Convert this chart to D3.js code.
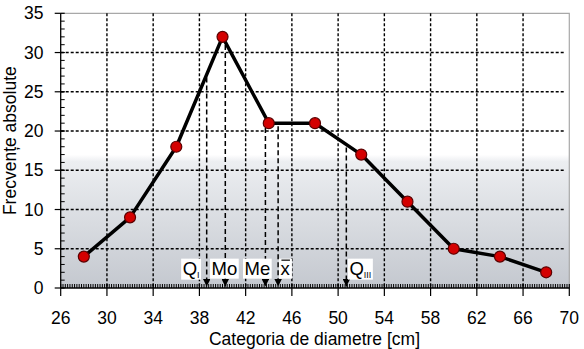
<!DOCTYPE html>
<html>
<head>
<meta charset="utf-8">
<script src="https://cdn.jsdelivr.net/npm/d3@7"></script>
<style>
  html, body { margin: 0; padding: 0; background: #fff; }
  svg { display: block; font-family: "Liberation Sans", Arial, sans-serif; }
</style>
</head>
<body>
<svg id="chart" width="584" height="349"></svg>
<script>
// Class midpoints (cm) and absolute frequencies
const diameters = [28, 32, 36, 40, 44, 48, 52, 56, 60, 64, 68];
const frequencies = [4, 9, 18, 32, 21, 21, 17, 11, 5, 4, 2];

// Position statistics drawn as arrows down to the axis
const statNames = ["QI", "Mo", "Me", "mean", "QIII"];
const statValues = [38.63, 40.24, 43.71, 44.81, 50.71];

// Label text, subscript and left edge (in cm) for each statistic
const statLabels = ["Q", "Mo", "Me", "x", "Q"];
const statSubs = ["I", "", "", "", "III"];
const statLabelX = [36.42, 38.92, 41.77, 44.88, 50.85];
const statLabelY = 1.7;

const xTicks = [26, 30, 34, 38, 42, 46, 50, 54, 58, 62, 66, 70];
const yTicks = [0, 5, 10, 15, 20, 25, 30, 35];

const svg = d3.select("#chart");
const plotL = 60.7, plotR = 569.3, plotT = 13.3, plotB = 288;

const x = d3.scaleLinear().domain([26, 70]).range([plotL, plotR]);
const y = d3.scaleLinear().domain([0, 35]).range([plotB, plotT]);

// Plot background: white at the top fading into grey towards the axis
const defs = svg.append("defs");
const grad = defs.append("linearGradient").attr("id", "bg")
  .attr("x1", 0).attr("y1", 0).attr("x2", 0).attr("y2", 1);
grad.append("stop").attr("offset", "0%").attr("stop-color", "#ffffff");
grad.append("stop").attr("offset", "51.5%").attr("stop-color", "#ffffff");
grad.append("stop").attr("offset", "54%").attr("stop-color", "#eceef1");
grad.append("stop").attr("offset", "100%").attr("stop-color", "#c4c8cf");

defs.append("marker").attr("id", "arrow")
  .attr("viewBox", "0 0 10 10").attr("refX", 10).attr("refY", 5)
  .attr("markerUnits", "userSpaceOnUse")
  .attr("markerWidth", 7.5).attr("markerHeight", 7.5).attr("orient", "auto")
  .append("path").attr("d", "M0,0 L10,5 L0,10 Z").attr("fill", "#000");

svg.append("rect")
  .attr("x", plotL).attr("y", plotT)
  .attr("width", plotR - plotL).attr("height", plotB - plotT)
  .attr("fill", "url(#bg)");

// Border on top and right
svg.append("path")
  .attr("d", `M${plotL},${plotT}H${plotR}V${plotB}`)
  .attr("fill", "none").attr("stroke", "#a8a8a8").attr("stroke-width", 1.2);

// Dotted grid
const grid = svg.append("g").attr("stroke", "#000").attr("stroke-width", 1.4)
  .attr("stroke-dasharray", "3,2");
grid.selectAll("line.h").data(yTicks.filter(v => v > 0 && v < 35)).join("line")
  .attr("class", "h")
  .attr("x1", plotL).attr("x2", plotR - 4)
  .attr("y1", d => y(d)).attr("y2", d => y(d));
grid.selectAll("line.v").data(xTicks.filter(v => v > 26 && v < 70)).join("line")
  .attr("class", "v")
  .attr("y1", plotT).attr("y2", plotB)
  .attr("x1", d => x(d)).attr("x2", d => x(d));

// Statistic arrows from the polygon down to the axis
const curveAt = v => {
  const i = d3.bisectRight(diameters, v) - 1;
  const t = (v - diameters[i]) / (diameters[i + 1] - diameters[i]);
  return frequencies[i] + t * (frequencies[i + 1] - frequencies[i]);
};
svg.append("g").selectAll("line").data(statValues).join("line")
  .attr("x1", d => x(d)).attr("x2", d => x(d))
  .attr("y1", d => y(curveAt(d)) + 3).attr("y2", plotB - 1.5)
  .attr("stroke", "#000").attr("stroke-width", 1.5)
  .attr("stroke-dasharray", "5,3")
  .attr("marker-end", "url(#arrow)");

// Labels on white boxes
const lab = svg.append("g");
statLabels.forEach((t, i) => {
  const g = lab.append("g");
  const txt = g.append("text")
    .attr("x", x(statLabelX[i]) + 1.5).attr("y", y(statLabelY))
    .attr("font-size", 18.5).attr("fill", "#000");
  txt.append("tspan").text(t);
  if (statSubs[i]) {
    txt.append("tspan").attr("font-size", 9).attr("dy", 3).text(statSubs[i]);
  }
  const bb = txt.node().getBBox();
  g.insert("rect", "text")
    .attr("x", bb.x - 1.5).attr("y", bb.y + 1)
    .attr("width", bb.width + 3).attr("height", bb.height - 1)
    .attr("fill", "#fff");
  if (statNames[i] === "mean") {
    g.append("line")
      .attr("x1", bb.x + 1).attr("x2", bb.x + 9.5)
      .attr("y1", y(statLabelY) - 14.5).attr("y2", y(statLabelY) - 14.5)
      .attr("stroke", "#000").attr("stroke-width", 1.2);
  }
});

// Axes
const axisG = svg.append("g").attr("stroke", "#000");
axisG.append("line").attr("x1", plotL).attr("x2", plotL)
  .attr("y1", plotT).attr("y2", plotB).attr("stroke-width", 1.3);
axisG.append("line").attr("x1", plotL).attr("x2", plotR)
  .attr("y1", plotB).attr("y2", plotB).attr("stroke-width", 1.3);

// y minor ticks (inside) and major ticks (outside)
axisG.selectAll("line.ym").data(d3.range(1, 35)).join("line")
  .attr("class", "ym")
  .attr("x1", plotL).attr("x2", plotL + 4)
  .attr("y1", d => y(d)).attr("y2", d => y(d)).attr("stroke-width", 1);
axisG.selectAll("line.yM").data(yTicks).join("line")
  .attr("class", "yM")
  .attr("x1", plotL - 6).attr("x2", plotL + 4)
  .attr("y1", d => y(d)).attr("y2", d => y(d)).attr("stroke-width", 1.2);

// x minor ticks (inside) and major ticks (outside)
axisG.selectAll("line.xm").data(d3.range(26.2, 70, 0.2)).join("line")
  .attr("class", "xm")
  .attr("x1", d => x(d)).attr("x2", d => x(d))
  .attr("y1", plotB - 4).attr("y2", plotB).attr("stroke-width", 1);
axisG.selectAll("line.xM").data(xTicks).join("line")
  .attr("class", "xM")
  .attr("x1", d => x(d)).attr("x2", d => x(d))
  .attr("y1", plotB - 4).attr("y2", plotB + 8).attr("stroke-width", 1.2);

svg.append("g").selectAll("text").data(yTicks).join("text")
  .attr("x", 43.5).attr("y", d => y(d) + 6)
  .attr("text-anchor", "end").attr("font-size", 17.5).text(d => d);
svg.append("g").selectAll("text").data(xTicks).join("text")
  .attr("x", d => x(d)).attr("y", 323.5)
  .attr("text-anchor", "middle").attr("font-size", 17.5).text(d => d);

svg.append("text").attr("x", 314.5).attr("y", 345)
  .attr("text-anchor", "middle").attr("font-size", 17.5)
  .text("Categoria de diametre [cm]");
svg.append("text")
  .attr("transform", `translate(16,${(plotT + plotB) / 2 - 10}) rotate(-90)`)
  .attr("text-anchor", "middle").attr("font-size", 17.5)
  .text("Frecvențe absolute");

// Frequency polygon
const pts = diameters.map((d, i) => [d, frequencies[i]]);
svg.append("path").datum(pts)
  .attr("d", d3.line().x(d => x(d[0])).y(d => y(d[1])))
  .attr("fill", "none").attr("stroke", "#000").attr("stroke-width", 3.5)
  .attr("stroke-linejoin", "round");
svg.append("g").selectAll("circle").data(pts).join("circle")
  .attr("cx", d => x(d[0])).attr("cy", d => y(d[1])).attr("r", 5.5)
  .attr("fill", "#d40000").attr("stroke", "#5a0000").attr("stroke-width", 1.2);
</script>
</body>
</html>
